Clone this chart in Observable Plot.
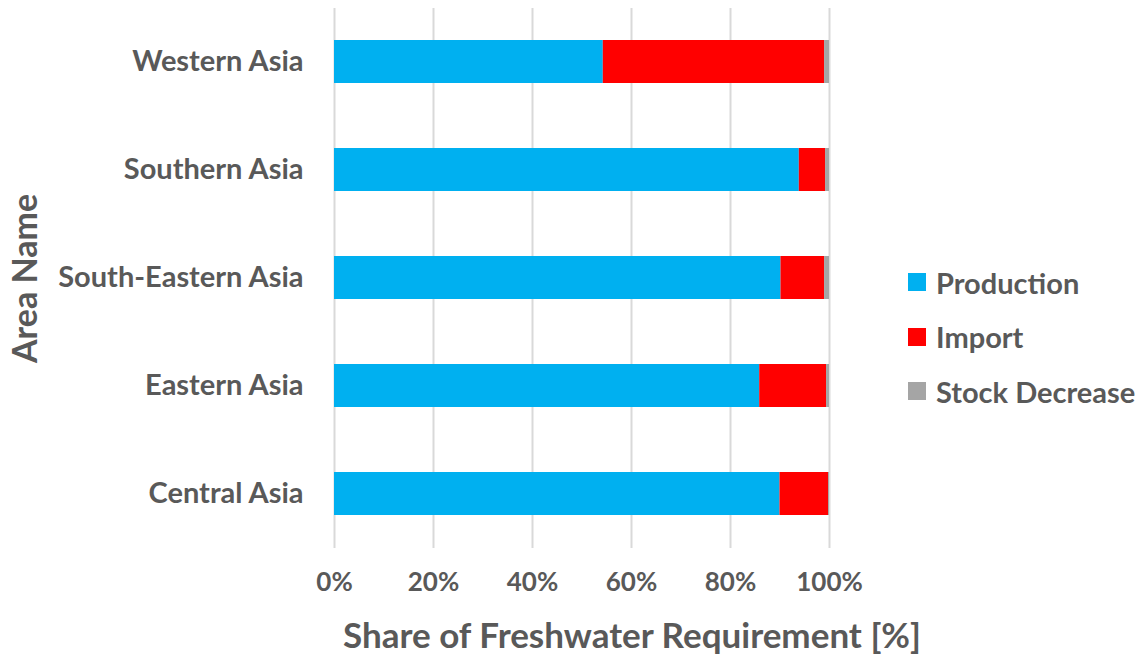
<!DOCTYPE html>
<html><head><meta charset="utf-8">
<script src="https://cdn.jsdelivr.net/npm/d3@7"></script>
<script src="https://cdn.jsdelivr.net/npm/@observablehq/plot@0.6"></script>
<style>
body{margin:0;background:#fff;font-family:Lato,"Open Sans",sans-serif;}
#wrap{position:relative;width:1143px;height:663px;}
#legend{position:absolute;left:908px;top:255px;color:#595959;font-weight:700;font-size:29px;}
#legend .row{display:flex;align-items:center;height:54.5px;}
#legend .sw{width:18px;height:18px;margin-right:10px;}
</style></head>
<body>
<div id="wrap"><div id="chart"></div><div id="legend"></div></div>
<script>
const areas = ["Western Asia","Southern Asia","South-Eastern Asia","Eastern Asia","Central Asia"];
const series = ["Production","Import","Stock Decrease"];
const colors = ["#00b0f0","#ff0000","#a5a5a5"];
const production = [0.543,0.939,0.902,0.859,0.900];
const importShare = [0.447,0.053,0.088,0.135,0.098];
const stockDecrease = [0.010,0.008,0.010,0.006,0.002];
const xTicks = [0,0.2,0.4,0.6,0.8,1.0];
const xTitle = "Share of Freshwater Requirement [%]";
const yTitle = "Area Name";

const values = [production, importShare, stockDecrease];
const data = [];
series.forEach((s,i)=>areas.forEach((a,j)=>data.push({area:a, series:s, value:values[i][j]})));

const font = "Lato, 'Open Sans', sans-serif";
const chart = Plot.plot({
  width: 1143, height: 663,
  marginLeft: 334, marginRight: 314, marginTop: 8, marginBottom: 115,
  style: {fontFamily: font, fontWeight: 700, color: "#595959", background: "#fff"},
  x: {domain: [0,1]},
  y: {domain: areas, paddingInner: 0.6, paddingOuter: 0.3},
  color: {domain: series, range: colors},
  marks: [
    Plot.gridX(xTicks, {stroke: "#d9d9d9", strokeOpacity: 1, strokeWidth: 2}),
    Plot.barX(data, {x: "value", y: "area", fill: "series"}),
    Plot.axisX({ticks: xTicks, tickFormat: d3.format(".0%"), tickSize: 0, tickPadding: 24, fontSize: 26, label: null}),
    Plot.text([xTitle], {text: d => d, frameAnchor: "bottom", lineAnchor: "middle", dx: 50, dy: 88, fontSize: 35, fill: "#595959"}),
    Plot.axisY({tickSize: 0, tickPadding: 31, fontSize: 29, label: null}),
    Plot.axisY({ticks: [], label: yTitle, labelAnchor: "center", labelArrow: "none", labelOffset: 322, fontSize: 34})
  ]
});
document.getElementById("chart").append(chart);

const leg = document.getElementById("legend");
series.forEach((s,i)=>{
  const r = document.createElement("div"); r.className="row";
  r.innerHTML = `<div class="sw" style="background:${colors[i]}"></div><span>${s}</span>`;
  leg.append(r);
});
</script>
</body></html>
